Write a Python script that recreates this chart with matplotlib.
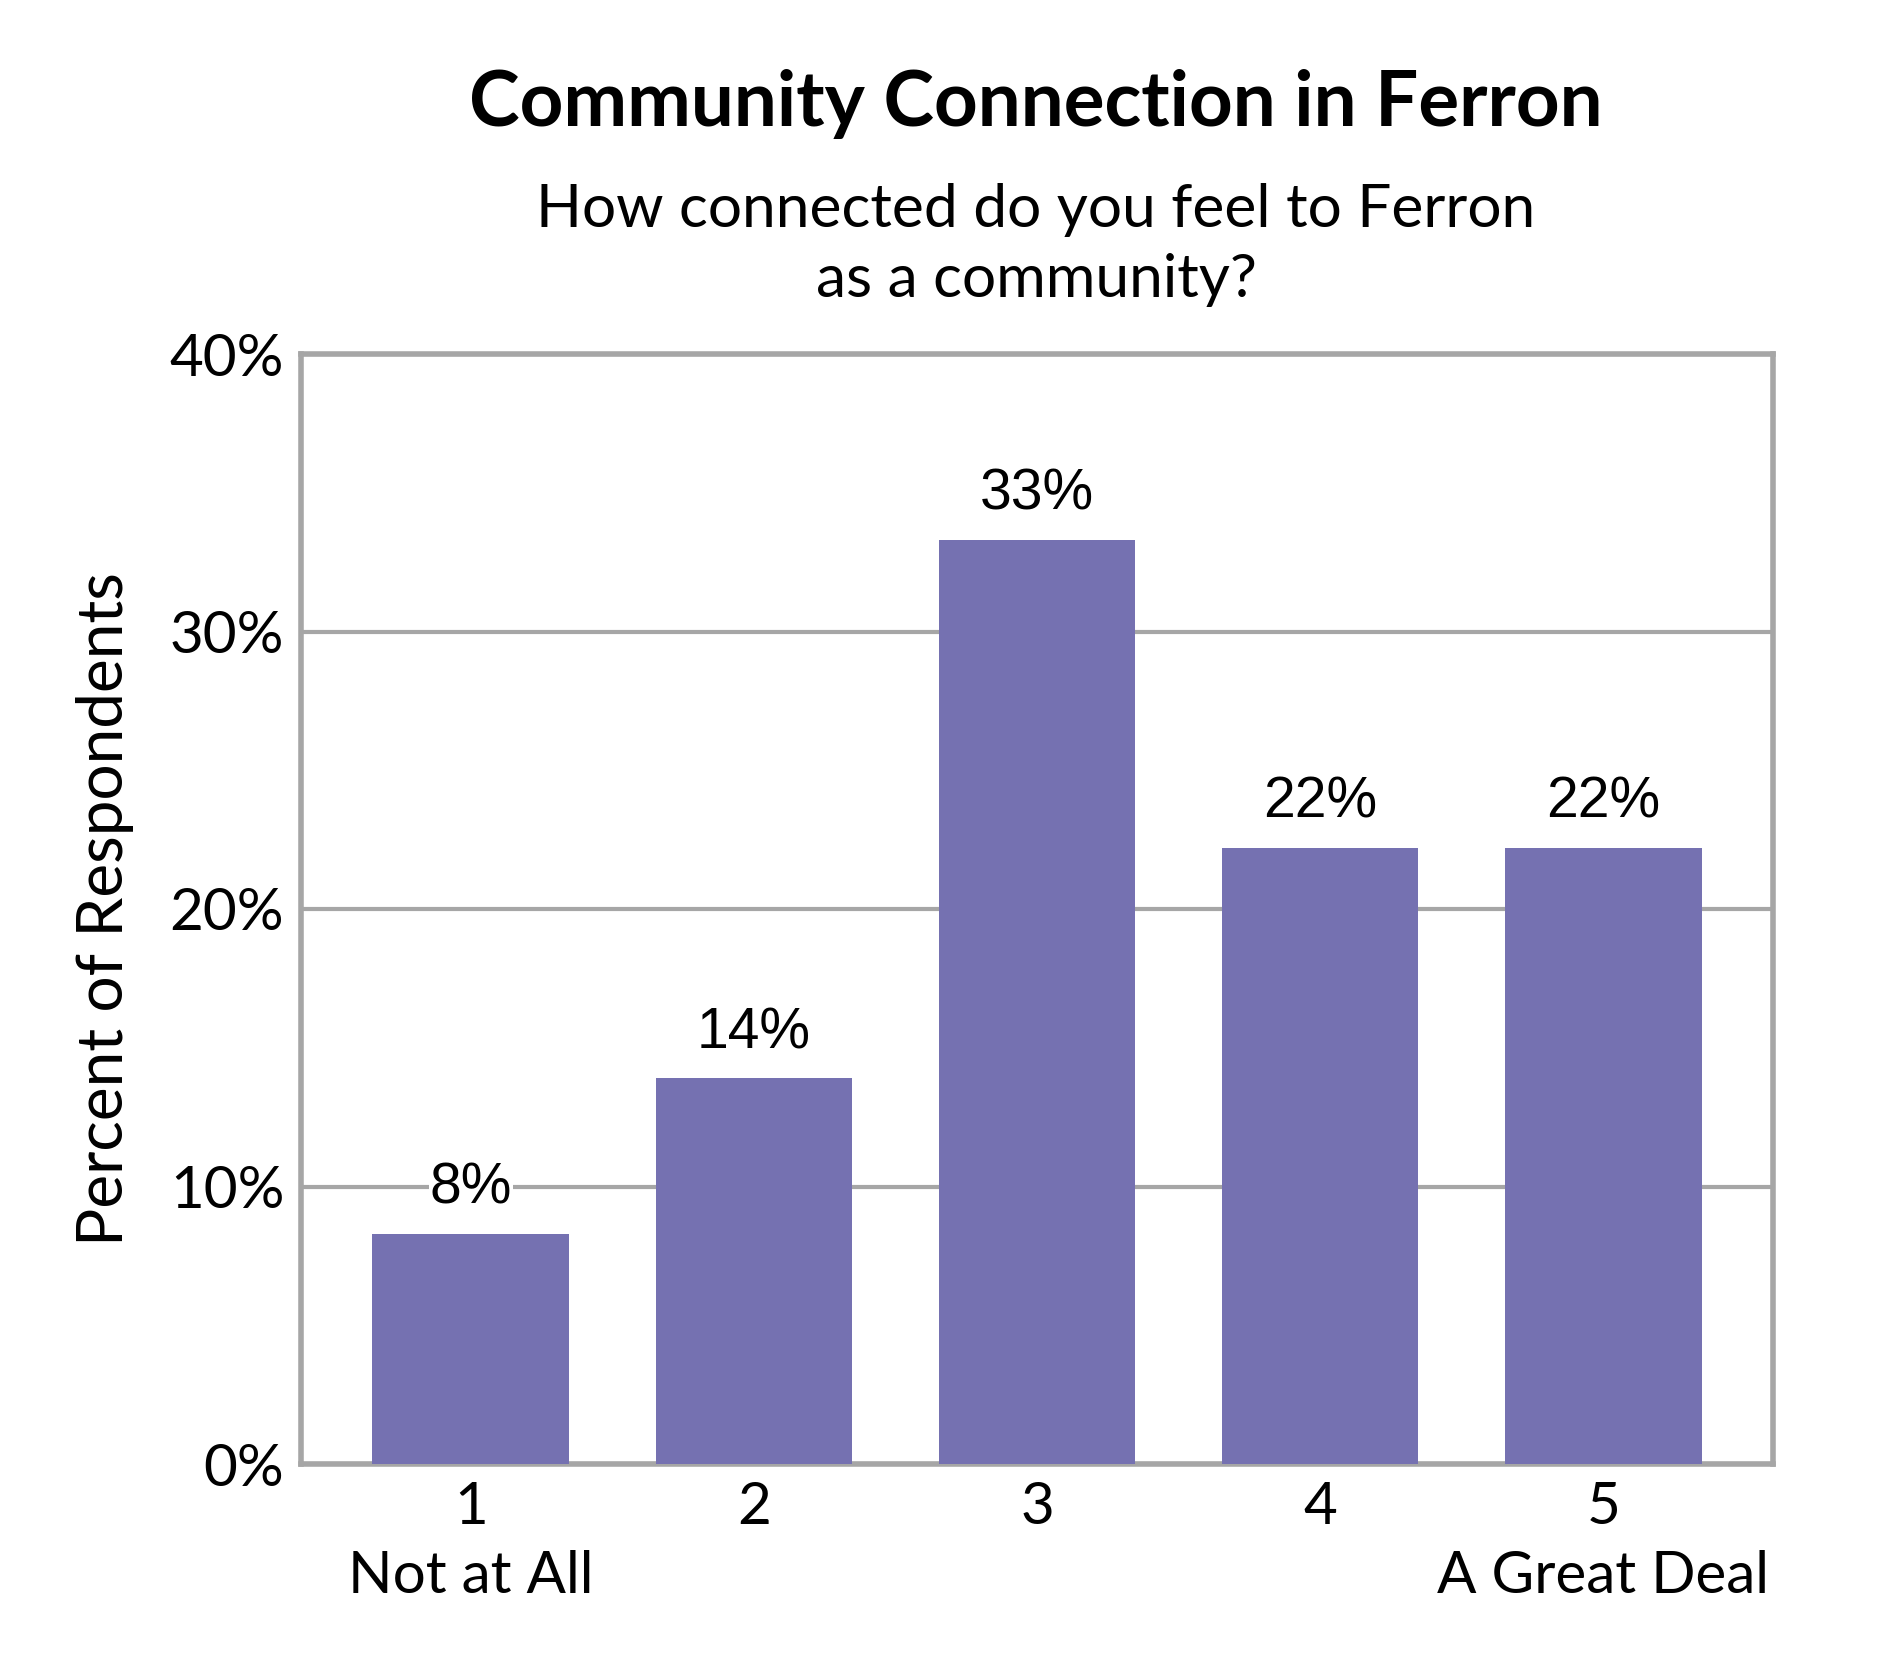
import numpy as np
import matplotlib.pyplot as plt

# survey answers, n=36
categories = ['1', '2', '3', '4', '5']
end_words = ['Not at All', 'A Great Deal']
percents = [8.3, 13.9, 33.3, 22.2, 22.2]
labels = ['8%', '14%', '33%', '22%', '22%']

plt.rcParams['font.family'] = ['Lato', 'DejaVu Sans']

fig = plt.figure(figsize=(18.9, 16.8), dpi=100)
ax = fig.add_axes([301/1890, 1 - 1464/1680, (1773-301)/1890, (1464-354)/1680])

x = np.arange(len(percents))
bars = ax.bar(x, percents, width=0.695, color='#7571B1', zorder=3)

ax.set_xlim(-0.6, 4.6)
ax.set_ylim(0, 40)
ax.set_yticks([0, 10, 20, 30, 40])
ax.set_yticklabels(['0%', '10%', '20%', '30%', '40%'])
ax.set_xticks(x)
ax.set_xticklabels(categories)
ax.tick_params(length=0, labelsize=42, pad=12)
ax.tick_params(axis='x', pad=12)
ax.yaxis.grid(True, color='#A6A6A6', linewidth=3, zorder=1)
for s in ax.spines.values():
    s.set_color('#A6A6A6')
    s.set_linewidth(4)

# the two end words under the ticks
ax.text(0, -0.101, end_words[0], transform=ax.get_xaxis_transform(),
        ha='center', va='center', fontsize=42)
ax.text(4, -0.101, end_words[1], transform=ax.get_xaxis_transform(),
        ha='center', va='center', fontsize=42)

for rect, lab in zip(bars, labels):
    ax.annotate(lab, (rect.get_x() + rect.get_width()/2, rect.get_height()),
                xytext=(0, 13), textcoords='offset points', ha='center', va='bottom',
                fontsize=41, family='Liberation Sans', zorder=4,
                bbox=dict(facecolor='white', edgecolor='none', pad=1))

ax.set_ylabel('Percent of Respondents', fontsize=46, labelpad=26)

fig.text(1036/1890, 1 - 104/1680, 'Community Connection in Ferron', ha='center', va='center',
         fontsize=55, fontweight='bold')
fig.text(1036/1890, 1 - 245/1680, 'How connected do you feel to Ferron\nas a community?',
         ha='center', va='center', fontsize=43.5, linespacing=1.35)

fig.savefig('out.png', dpi=100, facecolor='white')
